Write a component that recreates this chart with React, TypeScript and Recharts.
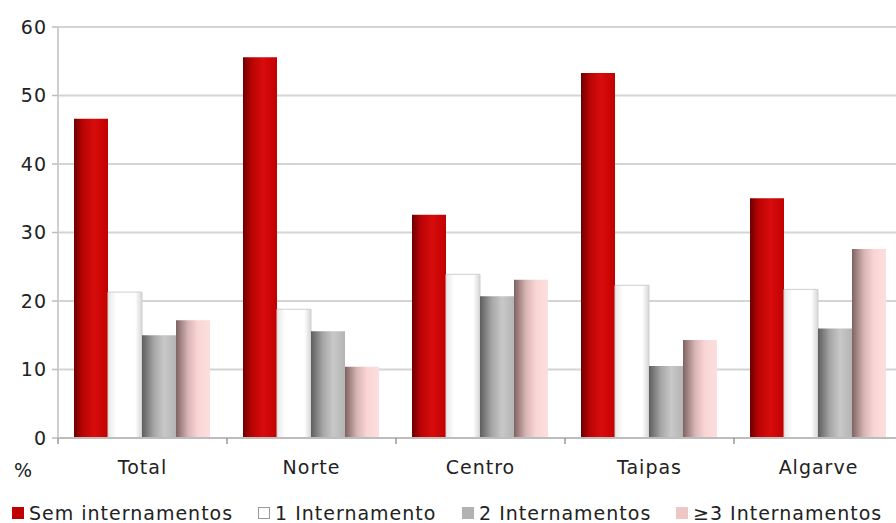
import React from "react";
import { BarChart, Bar, XAxis, YAxis, CartesianGrid, Legend } from "recharts";

const regions = ["Total", "Norte", "Centro", "Taipas", "Algarve"];
const semInternamentos = [46.6, 55.6, 32.6, 53.3, 35.0];
const umInternamento = [21.3, 18.8, 23.9, 22.3, 21.7];
const doisInternamentos = [15.0, 15.6, 20.7, 10.5, 16.0];
const tresOuMais = [17.2, 10.4, 23.1, 14.3, 27.6];
const yTicks = [0, 10, 20, 30, 40, 50, 60];

const seriesNames = ["Sem internamentos", "1 Internamento", "2 Internamentos", "≥3 Internamentos"];

const data = regions.map((r, i) => ({
  name: r,
  s0: semInternamentos[i],
  s1: umInternamento[i],
  s2: doisInternamentos[i],
  s3: tresOuMais[i],
}));

const FONT = "'DejaVu Sans', sans-serif";
const GRID = "#d4d4d4";
const CAT_W = 169;

const swatches = [
  { fill: "#c00000", stroke: "#c00000" },
  { fill: "#ffffff", stroke: "#9a9a9a" },
  { fill: "#b2b2b2", stroke: "#b2b2b2" },
  { fill: "#eec6c6", stroke: "#eec6c6" },
];
const legendX = [12, 258, 462, 676];

function XTick(props: any) {
  const { x, y, payload, index } = props;
  return (
    <g>
      <line x1={x - CAT_W / 2} x2={x - CAT_W / 2} y1={y - 8} y2={y - 2} stroke="#999" strokeWidth={1.5} />
      {index === regions.length - 1 && (
        <line x1={x + CAT_W / 2} x2={x + CAT_W / 2} y1={y - 8} y2={y - 2} stroke="#999" strokeWidth={1.5} />
      )}
      <text x={x} y={y + 28} textAnchor="middle" fill="#222" fontSize={19} fontFamily={FONT} letterSpacing={1}>
        {payload.value}
      </text>
    </g>
  );
}

function LegendBox() {
  return (
    <div style={{ position: "relative", height: 40, width: 896, fontFamily: FONT, fontSize: 19, color: "#222", letterSpacing: 1 }}>
      {seriesNames.map((n, i) => (
        <div key={n} style={{ position: "absolute", left: legendX[i], top: 19, display: "flex", alignItems: "center", whiteSpace: "nowrap" }}>
          <span style={{ display: "inline-block", width: 10, height: 10, background: swatches[i].fill, border: `1px solid ${swatches[i].stroke}`, marginRight: 5 }} />
          <span>{n}</span>
        </div>
      ))}
    </div>
  );
}

export default function App() {
  return (
    <div style={{ position: "relative", width: 896, height: 523, overflow: "hidden", background: "#fff" }}>
      <style>{"body{margin:0;overflow:hidden}"}</style>
      <BarChart
        width={910}
        height={523}
        data={data}
        margin={{ top: 27, right: 7, left: 0, bottom: 0 }}
        barCategoryGap={16}
        barGap={0}
      >
        <defs>
          <linearGradient id="gRed" x1="0" y1="0" x2="1" y2="0">
            <stop offset="0%" stopColor="#6e0000" />
            <stop offset="25%" stopColor="#b80404" />
            <stop offset="60%" stopColor="#d80c0c" />
            <stop offset="100%" stopColor="#c20000" />
          </linearGradient>
          <linearGradient id="gWhite" x1="0" y1="0" x2="1" y2="0">
            <stop offset="0%" stopColor="#e8e8e8" />
            <stop offset="25%" stopColor="#ffffff" />
            <stop offset="80%" stopColor="#ffffff" />
            <stop offset="100%" stopColor="#d6d6d6" />
          </linearGradient>
          <linearGradient id="gGray" x1="0" y1="0" x2="1" y2="0">
            <stop offset="0%" stopColor="#5e5e5e" />
            <stop offset="35%" stopColor="#a6a6a6" />
            <stop offset="65%" stopColor="#c8c8c8" />
            <stop offset="100%" stopColor="#b4b4b4" />
          </linearGradient>
          <linearGradient id="gPink" x1="0" y1="0" x2="1" y2="0">
            <stop offset="0%" stopColor="#7e6262" />
            <stop offset="35%" stopColor="#d8b4b4" />
            <stop offset="65%" stopColor="#fad6d6" />
            <stop offset="100%" stopColor="#fcdede" />
          </linearGradient>
        </defs>
        <CartesianGrid vertical={false} stroke={GRID} strokeWidth={2} />
        <XAxis
          dataKey="name"
          height={45}
          axisLine={{ stroke: "#bdbdbd", strokeWidth: 2 }}
          tickLine={false}
          tick={<XTick />}
          interval={0}
        />
        <YAxis
          width={58}
          domain={[0, 60]}
          ticks={yTicks}
          axisLine={{ stroke: "#cfcfcf", strokeWidth: 2 }}
          tickLine={{ stroke: "#bdbdbd", strokeWidth: 1.5 }}
          tickSize={6}
          tick={{ fontSize: 19, fill: "#222", fontFamily: FONT, dx: -3, letterSpacing: 1 }}
          label={{ value: "%", position: "insideBottomLeft", offset: 0, dx: 14, dy: 39, fontSize: 19, fill: "#222", fontFamily: FONT }}
        />
        <Legend verticalAlign="bottom" height={40} content={() => <LegendBox />} wrapperStyle={{ left: 0, width: 896 }} />
        <Bar dataKey="s0" name={seriesNames[0]} fill="url(#gRed)" isAnimationActive={false} />
        <Bar dataKey="s1" name={seriesNames[1]} fill="url(#gWhite)" stroke="#cfcfcf" strokeWidth={1} isAnimationActive={false} />
        <Bar dataKey="s2" name={seriesNames[2]} fill="url(#gGray)" isAnimationActive={false} />
        <Bar dataKey="s3" name={seriesNames[3]} fill="url(#gPink)" isAnimationActive={false} />
      </BarChart>
    </div>
  );
}
